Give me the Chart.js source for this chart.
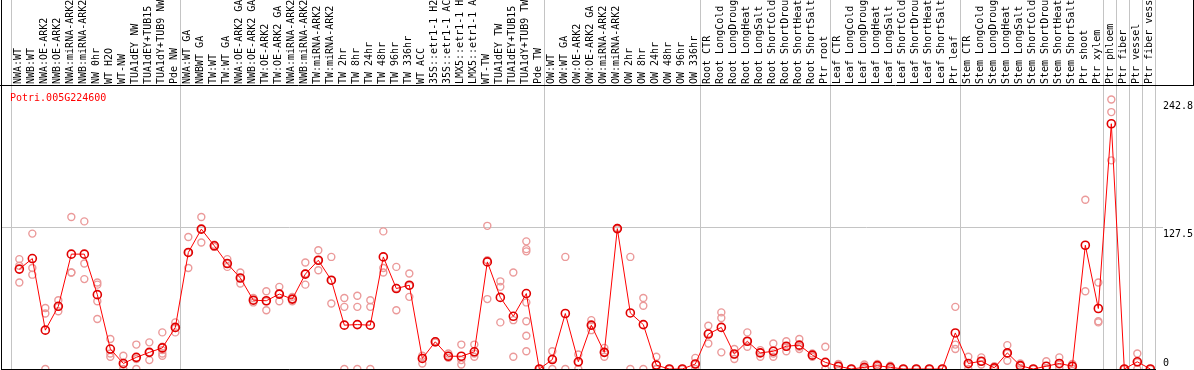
<!DOCTYPE html>
<html>
<head>
<meta charset="utf-8">
<script src="https://cdn.jsdelivr.net/npm/chart.js@4.4.1/dist/chart.umd.min.js"></script>
<style>
  html, body { margin: 0; padding: 0; background: #fff; }
  #wrap { width: 1194px; height: 370px; }
</style>
</head>
<body>
<div id="wrap"><canvas id="chartExpr"></canvas></div>
<script>
// sample names, left to right
const categories = [
  'NWA:WT', 'NWB:WT', 'NWA:OE-ARK2', 'NWB:OE-ARK2', 'NWA:miRNA-ARK2', 'NWB:miRNA-ARK2', 'NW 0hr', 'WT H2O', 'WT-NW',
  'TUA1dEY NW', 'TUA1dEY+TUB15 NW', 'TUA1dY+TUB9 NW', 'Pde NW',
  'NWA:WT GA', 'NWBWT GA', 'TW:WT', 'TW:WT GA', 'NWA:OE-ARK2 GA', 'NWB:OE-ARK2 GA', 'TW:OE-ARK2', 'TW:OE-ARK2 GA',
  'NWA:miRNA-ARK2', 'NWB:miRNA-ARK2', 'TW:miRNA-ARK2', 'TW:miRNA-ARK2', 'TW 2hr', 'TW 8hr', 'TW 24hr', 'TW 48hr',
  'TW 96hr', 'TW 336hr', 'WT ACC', '35S::etr1-1 H2O', '35S::etr1-1 ACC', 'LMX5::etr1-1 H2O', 'LMX5::etr1-1 ACC',
  'WT-TW', 'TUA1dEY TW', 'TUA1dEY+TUB15 TW', 'TUA1dY+TUB9 TW', 'Pde TW',
  'OW:WT', 'OW:WT GA', 'OW:OE-ARK2', 'OW:OE-ARK2 GA', 'OW:miRNA-ARK2', 'OW:miRNA-ARK2', 'OW 2hr', 'OW 8hr',
  'OW 24hr', 'OW 48hr', 'OW 96hr', 'OW 336hr',
  'Root CTR', 'Root LongCold', 'Root LongDrought', 'Root LongHeat', 'Root LongSalt', 'Root ShortCold',
  'Root ShortDrought', 'Root ShortHeat', 'Root ShortSalt', 'Ptr root',
  'Leaf CTR', 'Leaf LongCold', 'Leaf LongDrought', 'Leaf LongHeat', 'Leaf LongSalt', 'Leaf ShortCold',
  'Leaf ShortDrought', 'Leaf ShortHeat', 'Leaf ShortSalt', 'Ptr leaf',
  'Stem CTR', 'Stem LongCold', 'Stem LongDrought', 'Stem LongHeat', 'Stem LongSalt', 'Stem ShortCold',
  'Stem ShortDrought', 'Stem ShortHeat', 'Stem ShortSalt', 'Ptr shoot', 'Ptr xylem',
  'Ptr phloem', 'Ptr fiber', 'Ptr vessel', 'Ptr fiber vessel'
];

// how many samples in each block between the grey separators
const groupSizes = [13, 28, 12, 10, 10, 11, 1, 1, 1, 1];

// mean expression per sample (dark circles + line)
const means = [
  90, 99.5, 35, 56.5, 103.5, 103.5, 67, 18, 5, 10.5, 15, 19, 37.5,
  105, 126, 111, 95, 82, 62, 61.5, 67.5, 63, 85.5, 98, 80, 39.5, 40, 39.5, 101,
  72.5, 75.5, 9.5, 24.5, 11.5, 11.5, 15.5, 96.5, 64.5, 47.5, 68, 0,
  8.5, 50, 6.5, 39.5, 15, 126.5, 50.5, 40, 3.5, 0, 0, 4.5,
  31.5, 37.5, 13.5, 25, 14.5, 16, 20.5, 21.5, 12.5, 6,
  2.5, 0, 1.5, 3, 1.5, 0, 0, 0, 0, 32.5,
  5, 7, 1, 14.5, 3, 0, 2.5, 5, 2.5, 111.5, 54.5,
  221, 0, 6.5, 0
];

// replicate values per sample (light circles)
const replicates = [
  [99, 93, 78], [122, 91, 85], [55, 50, 0], [62, 56, 52], [137, 87, 87], [133, 95, 81],
  [78, 76, 61, 45], [27, 14, 11], [12, 4, 0], [22, 9, 0], [24, 15, 8], [33, 20, 17, 14, 12], [42, 37, 33],
  [119, 105, 91], [137, 126, 114], [112, 110, 110], [99, 95, 92], [87, 82, 77], [64, 62, 60],
  [70, 61, 53], [74, 68, 61], [65, 63, 61], [96, 86, 76], [107, 98, 89], [101, 80, 59],
  [64, 56, 0], [66, 56, 0], [62, 56, 0], [124, 91, 87], [92, 73, 53], [86, 75, 65],
  [12, 10, 5], [25, 24, 24], [14, 12, 10], [22, 8, 4], [22, 14, 11], [129, 98, 63],
  [79, 74, 42], [87, 44, 11], [115, 108, 106, 60, 43, 30, 16], [0, 0, 0],
  [16, 9, 0], [101, 0], [13, 6, 0], [44, 39, 35], [19, 15, 11], [127, 126, 126],
  [101, 0], [64, 57, 0], [11, 0, 0], [0, 0], [0, 0], [10, 4, 0],
  [39, 32, 23], [51, 46, 15], [18, 13, 9], [33, 25, 20], [17, 15, 11], [23, 14, 11],
  [25, 20, 16], [27, 20, 18], [14, 12, 11], [20, 0, 0],
  [4.5, 2.5, 0], [0, 0], [4, 1, 0], [4.5, 3, 1.5], [3, 1.5, 0], [0, 0],
  [0, 0], [0, 0], [0, 0], [56, 22, 18],
  [11, 4, 0], [10.5, 7, 4], [2.5, 0.5, 0], [21.5, 14, 7.5], [5, 3, 1], [0, 0],
  [7, 0, 0], [10.5, 4, 1], [4.5, 2.5, 0.5], [152.5, 70], [78, 43, 42],
  [242.8, 231.5, 188], [0, 0], [14, 6, 0], [0, 0]
];

const yTicks = [0, 127.5, 242.8];
const geneId = 'Potri.005G224600';

const MONO = '"DejaVu Sans Mono", "Liberation Mono", monospace';
const GRID = '#c4c4c4';

const meanPoints = means.map((v, i) => ({x: i, y: v}));
const repPoints = [];
replicates.forEach((reps, i) => reps.forEach(v => repPoints.push({x: i, y: v})));

// frame, group separators, gene id and the y labels
const framePlugin = {
  id: 'frame',
  beforeDatasetsDraw(chart) {
    const {ctx, chartArea: a, scales: {x}} = chart;
    ctx.save();
    ctx.lineWidth = 1;
    ctx.strokeStyle = GRID;
    ctx.beginPath();
    let start = 0;
    groupSizes.forEach(n => {
      const px = Math.round(x.getPixelForValue(start - 0.66)) + 0.5;
      ctx.moveTo(px, 0);
      ctx.lineTo(px, a.bottom);
      start += n;
    });
    ctx.moveTo(a.right + 0.5, 0);
    ctx.lineTo(a.right + 0.5, a.bottom);
    ctx.stroke();

    ctx.strokeStyle = '#000';
    ctx.beginPath();
    ctx.moveTo(0, a.top - 0.5);
    ctx.lineTo(chart.width, a.top - 0.5);
    ctx.moveTo(a.left + 0.5, 0);
    ctx.lineTo(a.left + 0.5, chart.height);
    ctx.moveTo(a.left, a.bottom + 0.5);
    ctx.lineTo(a.right + 1, a.bottom + 0.5);
    ctx.moveTo(chart.width - 0.5, 0);
    ctx.lineTo(chart.width - 0.5, a.top);
    ctx.stroke();
    ctx.restore();
  },
  afterDraw(chart) {
    const {ctx, chartArea: a, scales: {y}} = chart;
    ctx.save();
    ctx.font = '10px ' + MONO;
    ctx.textBaseline = 'top';
    ctx.textAlign = 'left';
    ctx.fillStyle = '#ff0000';
    ctx.fillText(geneId, a.left + 9, a.top + 7);
    ctx.fillStyle = '#000';
    yTicks.forEach(v => {
      const py = Math.min(y.getPixelForValue(v) + 2, a.bottom - 11);
      ctx.fillText(String(v), a.right + 8, py);
    });
    ctx.restore();
  }
};

new Chart('chartExpr', {
  type: 'scatter',
  data: {
    datasets: [
      {
        label: 'mean',
        data: meanPoints,
        showLine: true,
        borderColor: '#ff0000',
        borderWidth: 1,
        pointRadius: 4,
        pointBorderWidth: 1.6,
        pointBorderColor: '#e00000',
        pointBackgroundColor: 'rgba(0,0,0,0)'
      },
      {
        label: 'replicates',
        data: repPoints,
        pointRadius: 3.5,
        borderWidth: 1.4,
        borderColor: '#eb9a9a',
        backgroundColor: 'rgba(0,0,0,0)'
      }
    ]
  },
  options: {
    responsive: true,
    maintainAspectRatio: false,
    animation: false,
    layout: { autoPadding: false, padding: { left: 1, right: 0, top: 0, bottom: 1 } },
    plugins: {
      legend: { display: false },
      tooltip: { enabled: false }
    },
    scales: {
      x: {
        type: 'linear',
        position: 'top',
        bounds: 'data',
        min: -1.41,
        max: 87.36,
        afterBuildTicks: s => { s.ticks = categories.map((_, i) => ({value: i})); },
        afterFit: s => {
          s.height = 86;
          s.paddingLeft = 0;
          s.paddingRight = 0;
        },
        grid: { display: false, drawTicks: false },
        border: { display: false },
        ticks: {
          autoSkip: false,
          minRotation: 90,
          maxRotation: 90,
          padding: 2,
          labelOffset: 11,
          color: '#000',
          font: { family: MONO, size: 10 },
          callback: v => categories[v]
        }
      },
      y: {
        position: 'right',
        min: 0,
        max: 255,
        afterBuildTicks: s => { s.ticks = yTicks.map(v => ({value: v})); },
        afterFit: s => {
          s.width = 39;
          s.paddingTop = 0;
          s.paddingBottom = 0;
        },
        grid: {
          color: c => (c.tick && c.tick.value === yTicks[1]) ? GRID : 'rgba(0,0,0,0)',
          drawTicks: true,
          tickLength: 8
        },
        border: { display: false },
        ticks: { display: false }
      }
    }
  },
  plugins: [framePlugin]
});
</script>
</body>
</html>
